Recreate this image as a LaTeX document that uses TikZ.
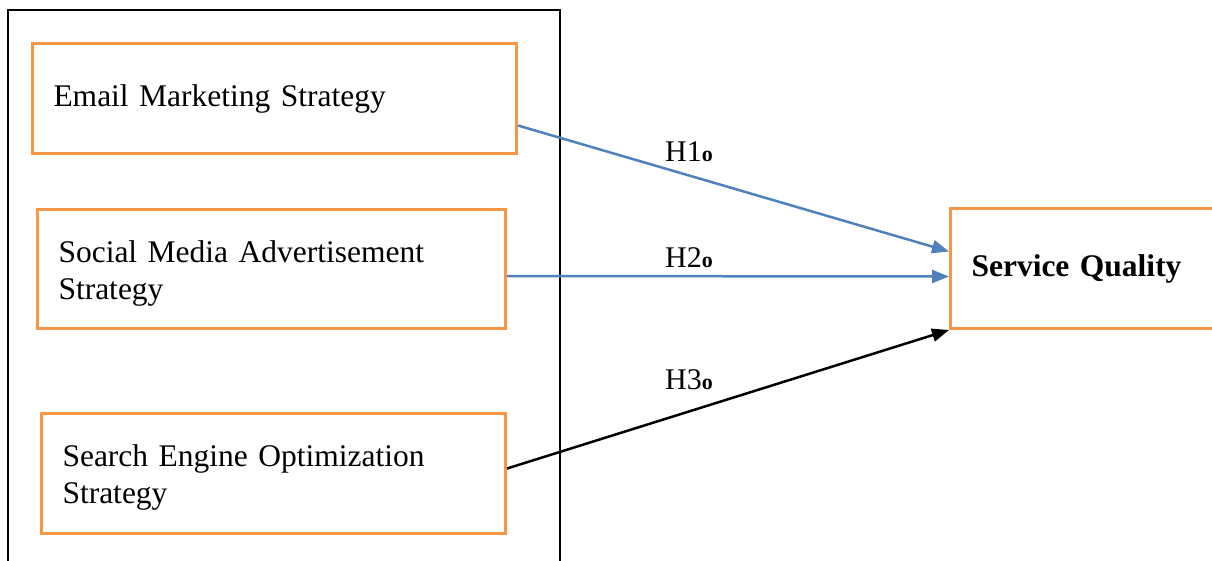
\documentclass[tikz,border=0pt]{standalone}
\usepackage{fontspec}
\setmainfont{Liberation Serif}
\usetikzlibrary{arrows.meta,calc}
\definecolor{boxorange}{HTML}{F79646}
\definecolor{arrowblue}{HTML}{4F81BD}
\tikzset{
  varbox/.style={draw=boxorange, line width=3pt, minimum height=#1, inner xsep=21pt, inner ysep=0pt, align=left, anchor=north west, font=\fontsize{31.5}{37}\selectfont},
  hyplabel/.style={anchor=base west, inner sep=0pt, font=\fontsize{30}{36}\selectfont},
  bluearrow/.style={draw=arrowblue, line width=2.5pt, -{Triangle[length=17pt,width=13pt]}},
  blackarrow/.style={draw=black, line width=2.5pt, -{Triangle[length=17pt,width=13pt]}},
}
\newcommand{\hsub}{{\fontsize{22}{24}\selectfont\textbf{o}}}
\begin{document}
\begin{tikzpicture}[x=1pt,y=-1pt]
\useasboundingbox (0,0) rectangle (1212,560);
% outer frame
\draw[line width=2.5pt] (8,580) -- (8,10) -- (560,10) -- (560,580);
% boxes
\node[varbox=110pt, text width=442pt] (email) at (31,42) {\raisebox{-4pt}{Email Marketing Strategy}};
\node[varbox=119pt, text width=426pt] (social) at (36,208) {\rule{0pt}{30pt}Social Media Advertisement\\Strategy};
\node[varbox=120pt, text width=422pt] (search) at (40,412) {\rule{0pt}{30pt}Search Engine Optimization\\Strategy};
\node[varbox=120pt, text width=300pt, font=\fontsize{31.5}{37}\selectfont\bfseries] (service) at (949,207) {\raisebox{-3pt}{Service Quality}};
% connector anchors
\coordinate (e1) at ($(email.east)+(0,27)$);
\coordinate (s1) at ($(service.west)+(0,-17)$);
\coordinate (e2) at ($(social.east)+(0,7)$);
\coordinate (s2) at ($(service.west)+(0,8)$);
\coordinate (e3) at ($(search.east)+(0,-5)$);
% arrows
\draw[bluearrow] (e1) -- (s1);
\draw[bluearrow] (e2) -- (s2);
\draw[blackarrow] (e3) -- (service.south west);
% labels
\node[hyplabel] (h1) at (665,161) {H1\hsub};
\node[hyplabel] (h2) at (665,267) {H2\hsub};
\node[hyplabel] (h3) at (665,389) {H3\hsub};
\end{tikzpicture}
\end{document}
